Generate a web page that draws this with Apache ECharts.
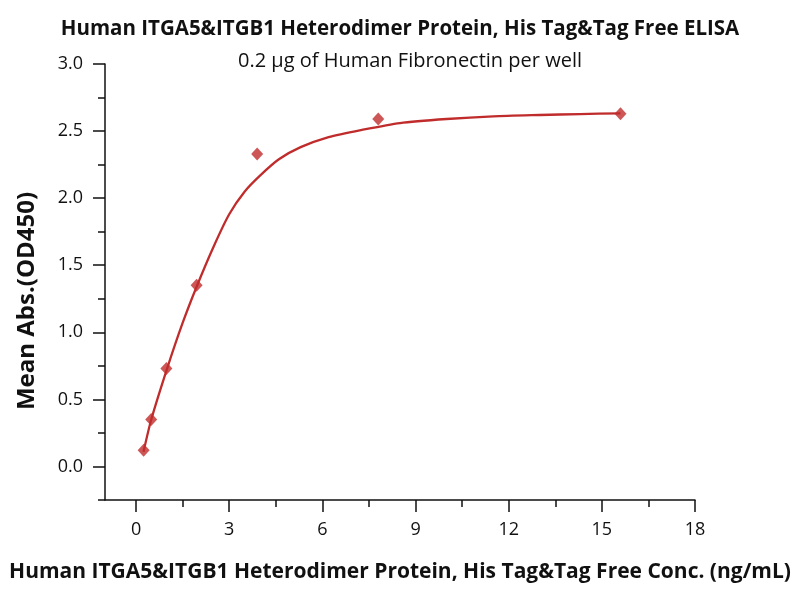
<!doctype html>
<html>
<head>
<meta charset="utf-8">
<title>ELISA</title>
<script src="https://cdn.jsdelivr.net/npm/echarts@6/dist/echarts.min.js"></script>
<style>
  html, body { margin: 0; padding: 0; background: #fff; }
  #main { width: 800px; height: 600px; }
</style>
</head>
<body>
<div id="main"></div>
<script>
// measured points (ng/mL, OD450)
var concX = [0.244, 0.488, 0.977, 1.95, 3.9, 7.8, 15.6];
var absY = [0.12, 0.35, 0.73, 1.35, 2.33, 2.59, 2.63];

// fitted curve
var fitX = [0.24, 0.49, 1.0, 1.5, 1.95, 2.5, 3.0, 3.5, 4.0, 4.6, 5.3, 6.2, 7.3, 8.5, 10, 11.5, 13, 14.3, 15.6];
var fitY = [0.11, 0.35, 0.73, 1.07, 1.34, 1.64, 1.88, 2.05, 2.17, 2.29, 2.38, 2.455, 2.51, 2.56, 2.59, 2.61, 2.62, 2.627, 2.632];

// axis ticks
var xMajor = [0, 3, 6, 9, 12, 15, 18];
var xMinor = [1.5, 4.5, 7.5, 10.5, 13.5, 16.5];
var yMajor = [0, 0.5, 1, 1.5, 2, 2.5, 3];
var yMinor = [-0.25, 0.25, 0.75, 1.25, 1.75, 2.25, 2.75];

var red = '#c02c2c';
var font = '"Open Sans", "DejaVu Sans", sans-serif';

function pairs(xs, ys) {
  var out = [];
  for (var i = 0; i < xs.length; i++) out.push([xs[i], ys[i]]);
  return out;
}

var chart = echarts.init(document.getElementById('main'));

var axisLine = { show: true, onZero: false, lineStyle: { color: '#111', width: 1.5 } };

var option = {
  animation: false,
  backgroundColor: '#fff',
  textStyle: { fontFamily: font },
  title: [{
    text: 'Human ITGA5&ITGB1 Heterodimer Protein, His Tag&Tag Free ELISA',
    left: 'center',
    top: 14,
    textStyle: { fontFamily: font, fontSize: 20.5, fontWeight: 'bold', color: '#111' }
  }, {
    text: '0.2 μg of Human Fibronectin per well',
    left: 405,
    top: 46,
    textAlign: 'center',
    textStyle: { fontFamily: font, fontSize: 20, fontWeight: 'normal', color: '#111' }
  }],
  graphic: [{
    type: 'text',
    x: 27,
    y: 301,
    rotation: Math.PI / 2,
    style: {
      text: 'Mean Abs.(OD450)',
      font: 'bold 24px ' + font,
      fill: '#111',
      textAlign: 'center',
      textVerticalAlign: 'middle'
    }
  }],
  grid: { left: 105, right: 105, top: 64, bottom: 100, containLabel: false },
  xAxis: [{
    type: 'value',
    min: -1,
    max: 18,
    position: 'bottom',
    name: 'Human ITGA5&ITGB1 Heterodimer Protein, His Tag&Tag Free Conc. (ng/mL)',
    nameLocation: 'middle',
    nameGap: 62,
    nameTextStyle: { fontFamily: font, fontSize: 21, fontWeight: 'bold', color: '#111' },
    axisLine: axisLine,
    axisTick: { show: true, length: 12, customValues: xMajor, lineStyle: { color: '#111', width: 1.5 } },
    axisLabel: { customValues: xMajor, margin: 21, fontSize: 18, color: '#111', fontFamily: font },
    splitLine: { show: false }
  }, {
    type: 'value',
    min: -1,
    max: 18,
    position: 'bottom',
    axisLine: { show: false, onZero: false },
    axisTick: { show: true, length: 7, customValues: xMinor, lineStyle: { color: '#111', width: 1.5 } },
    axisLabel: { show: false },
    splitLine: { show: false }
  }],
  yAxis: [{
    type: 'value',
    min: -0.25,
    max: 3,
    position: 'left',
    axisLine: axisLine,
    axisTick: { show: true, length: 12, customValues: yMajor, lineStyle: { color: '#111', width: 1.5 } },
    axisLabel: {
      customValues: yMajor, margin: 22, fontSize: 18, color: '#111', fontFamily: font,
      formatter: function (v) { return v.toFixed(1); }
    },
    splitLine: { show: false }
  }, {
    type: 'value',
    min: -0.25,
    max: 3,
    position: 'left',
    axisLine: { show: false, onZero: false },
    axisTick: { show: true, length: 7, customValues: yMinor, lineStyle: { color: '#111', width: 1.5 } },
    axisLabel: { show: false },
    splitLine: { show: false }
  }],
  series: [{
    name: 'fit',
    type: 'line',
    xAxisIndex: 0,
    yAxisIndex: 0,
    data: pairs(fitX, fitY),
    smooth: 0.25,
    showSymbol: false,
    lineStyle: { color: red, width: 2.3 },
    z: 2
  }, {
    name: 'data',
    type: 'scatter',
    xAxisIndex: 0,
    yAxisIndex: 0,
    data: pairs(concX, absY),
    symbol: 'diamond',
    symbolSize: [12, 13],
    itemStyle: { color: red },
    z: 3
  }]
};

chart.setOption(option);
</script>
</body>
</html>
